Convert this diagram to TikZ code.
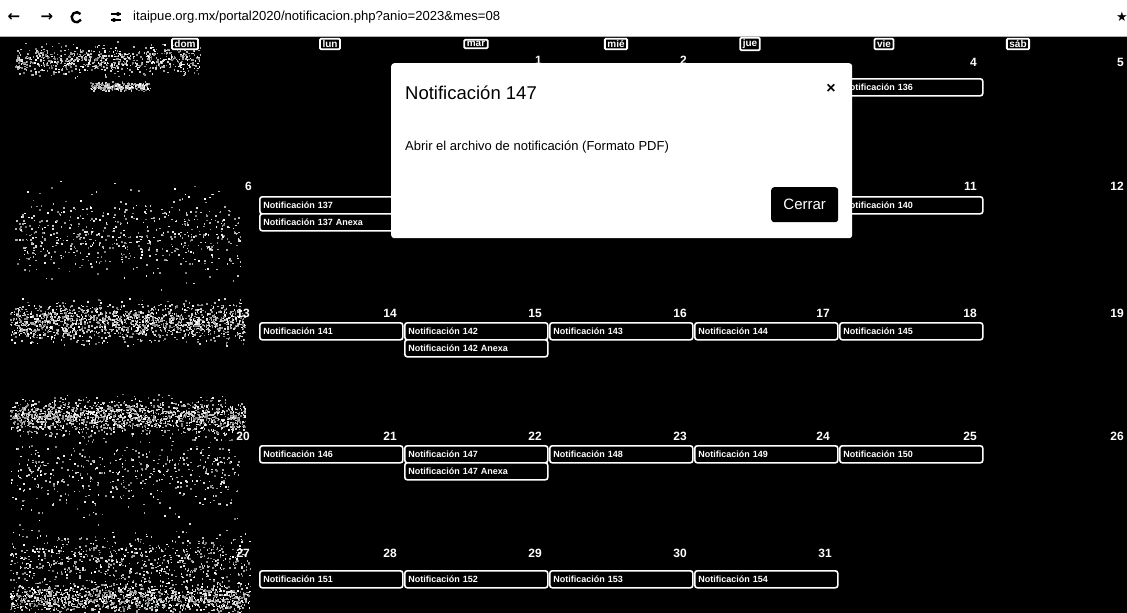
\documentclass[tikz,border=0pt]{standalone}
\usepackage{fontspec}
\usetikzlibrary{calc}
\setmainfont{Liberation Sans}
\newfontfamily\djv{DejaVu Sans}
\begin{document}
\begin{tikzpicture}[x=1pt,y=-1pt,
  ev/.style={draw=white, line width=1.6pt, rounded corners=2.5pt, fill=black, text=white,
    anchor=north west, minimum width=143pt, minimum height=17pt, text width=136pt, align=left,
    inner xsep=3.5pt, inner ysep=0pt, font=\fontsize{9}{10}\selectfont\bfseries},
  daynum/.style={text=white, anchor=north east, inner sep=0pt, font=\fontsize{12}{13}\selectfont\bfseries},
  hdr/.style={draw=white, line width=1.8pt, text=white, inner xsep=2.5pt, inner ysep=1.5pt, rounded corners=1pt,
    font=\fontsize{10}{11}\selectfont\bfseries},
  icon/.style={text=black, inner sep=0pt}]
\useasboundingbox (0,0) rectangle (1127,613);
% browser bar
\fill[white] (0,0) rectangle (1127,36);
\node[icon, font=\djv\fontsize{15}{16}\selectfont\bfseries] (back) at (14,17) {←};
\node[icon, font=\djv\fontsize{15}{16}\selectfont\bfseries] (fwd) at (47,17) {→};
\coordinate (rl) at (76,17);
\draw[line width=2.4pt] ($(rl)+(4.5,-3)$) arc[start angle=40, end angle=330, radius=5pt];
\coordinate (tn) at (116,17);
\draw[line width=1.5pt] ($(tn)+(-5,-3)$) -- ++(10,0) ($(tn)+(-5,3)$) -- ++(10,0);
\fill ($(tn)+(2,-3)$) circle (2pt) ($(tn)+(-2,3)$) circle (2pt);
\node[icon, anchor=west, font=\fontsize{13.1}{14}\selectfont] (url) at (133,17) {itaipue.org.mx/portal2020/notificacion.php?anio=2023\&mes=08};
\node[icon, font=\djv\fontsize{13}{14}\selectfont] (star) at (1122,17) {★};
% dark calendar area
\fill[black] (0,36) rectangle (1127,613);
\draw[white!70!black, line width=0.8pt] (0,36.4) -- (1127,36.4);
% photocopy speckle on the left
\begin{scope}
\clip (3,38) rectangle (252,613);
\pgfmathsetseed{7}
\foreach \cy/\sp/\n/\xa/\xr in {60/14/700/15/200, 86/4/250/90/150, 235/40/600/15/240, 322/18/1500/10/245, 416/16/1500/10/245, 470/40/500/10/240, 560/26/700/10/250, 598/14/1300/10/250}{
  \foreach \i in {1,...,\n}{
    \pgfmathsetmacro\px{\xa+rnd*(\xr-\xa)}
    \pgfmathsetmacro\py{\cy+\sp*(rnd+rnd+rnd-1.5)}
    \pgfmathsetmacro\g{45+55*rnd}
    \fill[white!\g!black] (\px,\py) rectangle ++(1.6,1.6);
  }
}
\end{scope}
% header labels
\node[hdr] (hdom) at (185,44) {dom};
\node[hdr] (hlun) at (330,44) {lun};
\node[hdr] (hmar) at (476,44) {mar};
\node[hdr] (hmie) at (616,44) {mié};
\node[hdr] (hjue) at (750,44) {jue};
\node[hdr] (hvie) at (884,44) {vie};
\node[hdr] (hsab) at (1018,44) {sáb};
% day numbers
\node[daynum] (d1) at (542,56) {1};
\node[daynum] (d2) at (687,56) {2};
\node[daynum] (d4) at (977,58) {4};
\node[daynum] (d5) at (1124,58) {5};
\node[daynum] (d6) at (252,182) {6};
\node[daynum] (d11) at (977,182) {11};
\node[daynum] (d12) at (1124,182) {12};
\node[daynum] (d13) at (250,309) {13};
\node[daynum] (d14) at (397,309) {14};
\node[daynum] (d15) at (542,309) {15};
\node[daynum] (d16) at (687,309) {16};
\node[daynum] (d17) at (830,309) {17};
\node[daynum] (d18) at (977,309) {18};
\node[daynum] (d19) at (1124,309) {19};
\node[daynum] (d20) at (250,432) {20};
\node[daynum] (d21) at (397,432) {21};
\node[daynum] (d22) at (542,432) {22};
\node[daynum] (d23) at (687,432) {23};
\node[daynum] (d24) at (830,432) {24};
\node[daynum] (d25) at (977,432) {25};
\node[daynum] (d26) at (1124,432) {26};
\node[daynum] (d27) at (250,549) {27};
\node[daynum] (d28) at (397,549) {28};
\node[daynum] (d29) at (542,549) {29};
\node[daynum] (d30) at (687,549) {30};
\node[daynum] (d31) at (832,549) {31};
% events
\node[ev] (n136) at (839,78) {Notificación 136};
\node[ev] (n137) at (259,196) {Notificación 137};
\node[ev] (n137a) at (259,213) {Notificación 137 Anexa};
\node[ev] (n140) at (839,196) {Notificación 140};
\node[ev] (n141) at (259,322) {Notificación 141};
\node[ev] (n142) at (404,322) {Notificación 142};
\node[ev] (n142a) at (404,339) {Notificación 142 Anexa};
\node[ev] (n143) at (549,322) {Notificación 143};
\node[ev] (n144) at (694,322) {Notificación 144};
\node[ev] (n145) at (839,322) {Notificación 145};
\node[ev] (n146) at (259,445) {Notificación 146};
\node[ev] (n147) at (404,445) {Notificación 147};
\node[ev] (n147a) at (404,462) {Notificación 147 Anexa};
\node[ev] (n148) at (549,445) {Notificación 148};
\node[ev] (n149) at (694,445) {Notificación 149};
\node[ev] (n150) at (839,445) {Notificación 150};
\node[ev] (n151) at (259,570) {Notificación 151};
\node[ev] (n152) at (404,570) {Notificación 152};
\node[ev] (n153) at (549,570) {Notificación 153};
\node[ev] (n154) at (694,570) {Notificación 154};
% modal
\node[fill=white, rounded corners=3pt, anchor=north west, minimum width=461pt, minimum height=175pt, inner sep=0pt] (modal) at (391,63) {};
\node[anchor=west, inner sep=0pt, font=\fontsize{18.5}{20}\selectfont] (mtitle) at (405,93) {Notificación 147};
\node[inner sep=0pt, font=\fontsize{16}{17}\selectfont\bfseries] (mclose) at (831,89) {×};
\node[anchor=west, inner sep=0pt, font=\fontsize{13}{14}\selectfont] (mbody) at (405,147) {Abrir el archivo de notificación (Formato PDF)};
\node[fill=black, text=white, rounded corners=3pt, anchor=north west, minimum width=67pt, minimum height=35pt, inner sep=0pt, font=\fontsize{15}{16}\selectfont] (cerrar) at (771,187) {Cerrar};
\end{tikzpicture}
\end{document}
